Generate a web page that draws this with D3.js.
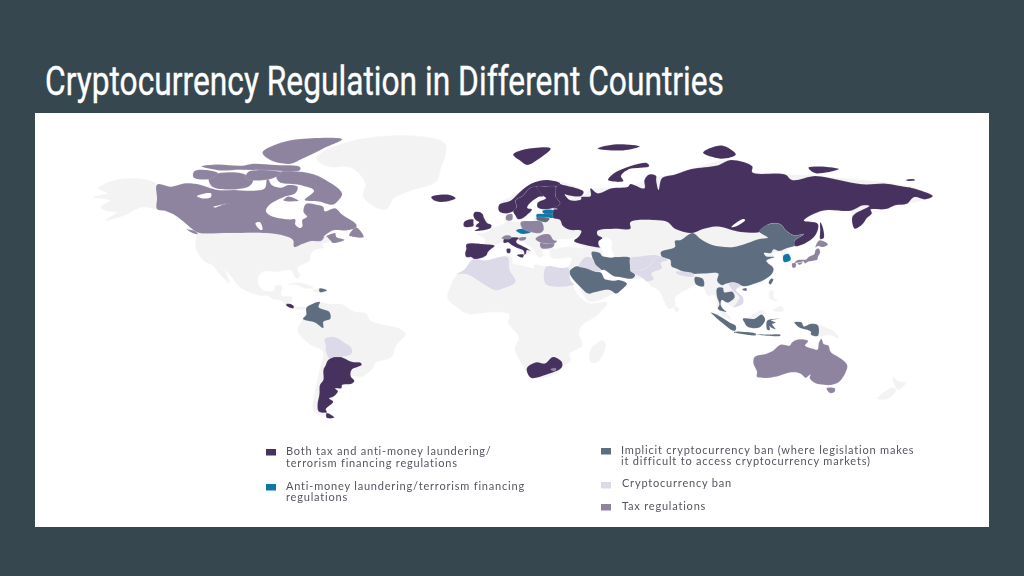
<!DOCTYPE html>
<html>
<head>
<meta charset="utf-8">
<script src="https://cdn.jsdelivr.net/npm/d3@7"></script>
<style>
  html, body { margin: 0; padding: 0; background: #37474f; }
  svg { display: block; }
</style>
</head>
<body>
<svg width="1024" height="576"></svg>
<script>
// outlines are [lon, lat]
var landBase = [
  // alaska
  [[-141,69.6],[-141,60],[-137,59],[-133,57],[-130,54.8],[-135,58.5],[-140,59.8],[-147,61],[-151,59.5],[-154,57.5],[-163,54.8],[-158,58.5],[-162,59],[-165,61],[-161,64],[-168,65.5],[-162,67],[-166,68.5],[-156.5,71.3]],
  // usa, mexico, central america
  [[-123,49],[-124.5,43],[-124,40],[-120.5,34.5],[-117,32.5],[-114.5,28],[-110,23],[-112,30],[-109,26],[-105.5,20.5],[-97,16],[-94,16],[-92,14.5],[-87.5,13],[-85.8,10],[-83,8.3],[-80,7.3],[-77.3,8],[-78,9.4],[-81,9],[-83.5,10.8],[-83.5,15],[-88,16],[-87.8,21.3],[-90.5,21],[-91,18.7],[-95,18.5],[-97.8,22],[-97,28],[-94,29.5],[-90,29],[-84,30],[-82,26],[-81,25.2],[-80,27],[-81.3,31],[-76,35],[-75.5,38],[-74,40.5],[-70,41.7],[-70.5,43.5],[-67,45],[-69,47.4],[-71,45],[-75,45],[-79,43.5],[-82.5,42],[-83,45.5],[-88,48],[-95,49],[-110,49]],
  // greenland
  [[-73,78.2],[-60,82],[-32,83.5],[-18,81.5],[-20,75],[-22,70.5],[-32,68],[-40,65],[-43,60],[-48,61],[-53,66],[-52,70],[-58,75.5],[-68,76]],
  // south america
  [[-77.3,8.6],[-75,11],[-71.5,12.4],[-68,11],[-62,10.7],[-57,6],[-52,5],[-50,0],[-44,-2.5],[-37,-5],[-35,-8],[-39,-15],[-41,-22],[-48,-25.5],[-48.5,-28],[-53.5,-34],[-58.3,-34],[-56.8,-36.5],[-58,-38.3],[-62,-39],[-65,-41],[-65.5,-45],[-69,-51],[-68,-54],[-74,-52],[-73.5,-42],[-71.5,-30],[-70.2,-18.5],[-76,-14],[-81,-6],[-80,-2],[-78.7,1.3],[-77.3,4]],
  // africa
  [[-6,35.8],[-1,35.2],[10,37.3],[11,33.5],[15,32.3],[20,31],[20,32.8],[25,31.7],[32,31],[34.5,31.3],[35.5,24],[37.5,18.5],[39.5,15],[43.5,11.5],[51,12],[47,4],[40,-3],[39,-8],[40.5,-15],[35,-20],[35.5,-24],[32.8,-27],[30,-31.5],[26,-34],[20,-34.8],[18.3,-34],[15,-27],[11.8,-17],[13.5,-10],[9,-1],[9.5,4],[5,6],[-4,5],[-8,4.5],[-13,9],[-17,14.7],[-16,20],[-13,27.5],[-10,30]],
  // eurasia
  [[-9,43],[-1.5,43.5],[-1,46],[-4.5,48.5],[-1.5,49],[2,51],[4,52],[8,54],[8.5,57],[10.5,57.5],[10,54.5],[14,54],[19,54.5],[21,57],[24,58],[23.5,59.3],[30,60],[23,60],[21.5,63],[25,65],[22,65.7],[17.5,62],[17,60.5],[19,59.8],[16.5,57],[14.3,55.5],[13,55.4],[11,59],[8,58],[5,59],[5,62],[14,67.5],[25,71],[41,67.5],[40,65],[44,68],[60,69],[72,72],[80,73],[104,77.7],[113,74],[140,72.5],[180,69],[190,66],[179,62.5],[163,59],[160,53],[155.6,56],[155,59.3],[143,59.3],[135,54.7],[141,53],[135,43.5],[130,42.5],[127.5,39.5],[129.5,36],[126.5,34.4],[125,39.7],[121,39],[118,39],[122.5,37],[119,35],[122,31],[118,24.5],[110,21],[106,19],[109,13],[105,9],[103,11],[100,13.5],[100.5,8],[104,1.3],[101,3],[98.3,8],[97,16],[94,16],[92,21],[89,22],[86,20],[80,15],[80,10],[77.5,8],[73,19],[70,21],[67,25],[61.5,25],[57,26],[51,29],[48.5,30],[50,25],[56,24.5],[59.5,22.5],[52,16],[43.5,12.7],[39,21],[35,28],[34.5,31],[36,36.5],[30,36.3],[27,37],[26.5,40],[29,41],[35,42],[41.5,41.5],[37,45],[39,47],[33,46],[30.5,46],[28.5,43.5],[28,41],[23,40.5],[24,38],[22,36.8],[19.5,41],[13.5,45.5],[12.3,45],[16,41.9],[18.5,40],[16,38],[12,42],[8.8,44.4],[3,43],[3,42],[0,39.5],[-2,36.8],[-5.5,36],[-9,37]],
  // madagascar
  [[49.3,-12],[50.4,-15.5],[47,-25],[44,-25],[43.5,-21],[44.5,-16.5]],
  // cuba, haiti, sri lanka
  [[-85,22],[-80,23],[-74.2,20.2],[-77.5,19.9],[-82,22]],
  [[-74.5,18.4],[-71.7,19.8],[-71.5,17.9]],
  [[80,9.6],[81.8,7.5],[80.5,6],[79.8,7.5]],
  // philippines
  [[120.5,18.5],[122,18.4],[122,15],[124,13],[120.6,14]],
  [[122,7],[125.5,9.7],[126.5,7],[124,6]],
  // malaysian borneo, png
  [[109.5,1.5],[111,1.8],[116.8,7],[119,5],[117,4.2],[114,1.5]],
  [[141,-2.6],[145,-4.5],[147.5,-6],[150,-10.5],[146,-8.5],[143,-9],[141,-9.1]],
  // new zealand
  [[173,-34.5],[175.5,-37],[178.5,-37.7],[175.3,-41.6],[174,-39.5]],
  [[172.7,-40.6],[174.3,-41.7],[171,-46],[166.5,-46]]
];

var bothTaxAndAml = [
  // russia
  [[30,69.8],[33,69.4],[41,67.5],[40,66],[34,66.5],[33,66.7],[35,64.3],[37,63.9],[40,64.6],[40,65.5],[44,66],[44,68.5],[47,67],[53,68.5],[60,69],[61,69.8],[67,68.5],[67,71],[69,73],[72,72.5],[72,71],[73,68],[74,71],[75,72],[80,73],[87,75],[98,76.3],[104,77.7],[113,76],[113,73.8],[127,73],[130,71],[140,72.5],[150,71],[160,69.7],[170,69.9],[178,69],[180,68.8],[190,66],[187,64.5],[182,65.5],[179,62.5],[174,61.8],[170,60],[164,60],[163.5,59.9],[164,58],[162,56],[160,53],[156.7,51],[155.6,56],[157,58],[163,61.5],[160,61.7],[155,59.3],[143,59.3],[135,54.7],[141,53.2],[140,48],[135,43.5],[131,42.5],[131,45],[135,48.4],[131,47.7],[127.5,50],[125,53],[120,53],[117,49.7],[108,49.5],[98,52],[92,50.8],[87.5,49],[80,51],[77,54],[71,55],[61,54],[61,51],[55,51],[47,50],[47,48],[49,46.5],[47.5,43],[48.5,41.8],[40,43.5],[37,45],[39,47.2],[40,50],[35,50.5],[32,52.5],[31,55],[28,56],[28,59.5],[30,60],[28,60.5],[31,62.5],[29,66]],
  // sakhalin, novaya zemlya, severnaya zemlya, new siberian, wrangel, franz josef, svalbard
  [[142,54],[143,52],[143.5,46.5],[142,46],[142,50]],
  [[51.5,71],[55,74],[68,77],[69,76],[60,74.8],[57,72.5],[58,70.7]],
  [[92,79.5],[100,81.2],[106,79],[100,78]],
  [[137,75.5],[145,75.8],[150,75],[140,73.5]],
  [[178.5,71],[182,71.3],[182.5,70.9],[179,70.8]],
  [[47,80.5],[55,81.5],[65,81],[58,80]],
  [[11,79],[16,80.3],[27,80.5],[22,78],[17,76.5],[14,77.5]],
  // norway, sweden, finland
  [[5,59],[5,62],[10,64],[14,67.5],[19,70],[25,71],[31,70],[29,69],[25,69],[21,69],[18,68.5],[15,66],[12,64],[12.5,61],[11,59],[8,58]],
  [[11,59],[12.5,61],[12,64],[15,66],[18,68.5],[21,69],[24,66],[22,65.7],[17.5,62],[17,60.5],[19,59.8],[16.5,57],[14.3,55.5],[13,55.4],[12,57]],
  [[21,69],[25,69],[29,69],[29,66],[31,62.5],[28,60.5],[23,60],[21.3,61],[21.5,63],[25,65],[24,66]],
  // iceland, britain, ireland, iberia
  [[-24,65.5],[-22,66.4],[-16,66.5],[-13.6,65],[-18,63.4],[-22.5,63.9]],
  [[-5.5,50],[1.3,51.2],[1.7,52.7],[0,53.5],[-1,55],[-1.5,56],[-2,57.6],[-3,58.6],[-5.5,58.6],[-6,57],[-5,55],[-3.5,54],[-4.5,53],[-5,52],[-3.5,51.4]],
  [[-10,52],[-6,52.2],[-6,54],[-6,55.2],[-8,55.2],[-10,54]],
  [[-9,43.3],[-5,43.8],[-2,43.5],[3,42.6],[1.5,41],[0.2,39.5],[-0.3,38],[-2,36.8],[-5.5,36],[-7,37],[-9,37],[-9.5,38.8],[-9,41]],
  // italy, sicily, sardinia
  [[7,44],[7,46],[10,46.8],[13.5,46.5],[12.3,45],[12.5,44],[16,41.9],[18.5,40],[16.8,40.4],[16.5,39],[15.8,38],[15.5,40],[12.3,41.7],[10.3,43],[8.8,44.4]],
  [[12.5,38],[15.5,38.2],[15,36.7]],
  [[8.2,41],[9.8,41],[9.6,39],[8.5,39]],
  // argentina, tierra del fuego, costa rica, south africa
  [[-65.5,-22],[-62.5,-22],[-58,-25],[-54,-25.7],[-53.7,-27],[-58,-30],[-58.3,-34],[-56.8,-36.5],[-58,-38.3],[-62,-39],[-62.3,-40.8],[-65,-41],[-63.8,-42.5],[-65.5,-45],[-67.5,-46],[-65.8,-47.5],[-69,-51],[-68.5,-52.3],[-72,-52],[-72.5,-49],[-71.7,-44],[-71.5,-39],[-70,-36],[-70,-30],[-69,-27],[-68.3,-24.5],[-67,-22.8]],
  [[-68.6,-52.7],[-65.3,-54.8],[-68.6,-54.9]],
  [[-85.8,11],[-83.7,10.9],[-82.6,9.5],[-83,8.2],[-85.7,9.9]],
  [[16.8,-29],[21,-25.3],[24.5,-26],[28,-22],[31.7,-25],[31.7,-28.5],[25,-33],[18.5,-34.8]]
];

var amlOnly = [
  // estonia, latvia
  [[23.5,59.3],[28,59.5],[27.5,57.6],[24.3,57.8],[23.5,58.5]],
  [[21,57.6],[24.3,57.8],[27.5,57.6],[28,56],[25,56.2],[21,56.2]],
  // czechia
  [[12.2,50.2],[15,51],[18.8,49.7],[17,48.7],[14.5,48.6]],
  // south korea
  [[126.3,37.7],[128.3,38.6],[129.5,36],[129,35],[126.5,34.4]]
];

var implicitBan = [
  // china, taiwan, hainan
  [[74,39.5],[80,42],[80,45],[82.5,45.5],[87.5,49],[91,46],[96,43],[105,42],[111,44],[116,46],[119.7,46.7],[116,49.7],[120,53],[125,53],[127.5,50],[131,47.7],[135,48.4],[131,45],[131,42.8],[128,41.5],[124.4,40],[122,40.8],[121,39],[118,39],[119,37.3],[122.5,37],[119,35],[122,31],[121.5,28],[118,24.5],[113.5,22.3],[110,21],[108,21.6],[105.5,23],[102,22.5],[100,21.6],[98,24],[98.5,28],[92,28],[86,28],[81,30.5],[78.5,32],[78,35.5],[74.5,37]],
  [[120,23],[121,25.2],[122,25],[120.8,22]],
  [[108.7,19.3],[110.5,20],[110.5,18.5]],
  // iran, saudi arabia and oman
  [[44.5,39.5],[48,39],[49,37.5],[54,37],[61,36.5],[61,31],[63,27],[61.5,25.2],[57,26],[54,26.5],[50,30],[48.5,30],[46,33],[45,36]],
  [[35,29],[38,32],[42,31],[46.5,29],[48.5,28.5],[50,25],[51.5,24.5],[54,24],[56,24.5],[59.5,22.5],[57,18.8],[55,17],[52,19],[45,17.5],[43,17],[39,21.5],[36.5,25]],
  // bangladesh, thailand
  [[88.5,26],[92,25],[92.3,21],[89,22]],
  [[98,20],[100.5,20.2],[101,17.8],[104.5,18],[105.5,15],[102.5,12],[101,13],[100,13.5],[99.5,11],[100.5,8],[102,6],[100,6.5],[98.3,8],[99,11],[98,15]],
  // indonesia
  [[95.3,5.5],[98,4],[103.5,-1],[106,-3],[105.8,-5.8],[104.5,-5.8],[100.5,-1.5],[97,3]],
  [[105.2,-6.8],[108,-6.5],[114.5,-7.7],[114.5,-8.7],[108,-7.8]],
  [[109,1.5],[114,1.5],[117,4.2],[118.5,1],[116,-4],[111,-3.5],[109.5,-0.5]],
  [[119.5,0.5],[125,1.5],[121,0.5],[123,-1],[121.5,-1.8],[123,-5],[121,-4],[120.4,-3],[120.5,-5.5],[119.4,-5.3],[119,-3]],
  [[115,-8.2],[119,-8.3],[125,-8.4],[125,-9],[119,-9]],
  [[131,-0.8],[134,-0.8],[135,-3.3],[138,-1.7],[141,-2.6],[141,-9.1],[138,-8.2],[138,-6.5],[133,-4],[132,-2.8]],
  // lithuania, colombia, dominican republic
  [[21,56.2],[25,56.2],[26.5,55.5],[25,54],[23,54.3],[21,55.2]],
  [[-77.3,8.6],[-75,11],[-71.5,12.4],[-72,9],[-67.5,6],[-67,1.5],[-70,-0.5],[-70,-4.2],[-73.5,-1],[-78.7,1.3],[-77.3,4]],
  [[-71.7,19.8],[-68.4,18.8],[-71.5,17.7]]
];

var cryptoBan = [
  // morocco and algeria, egypt
  [[-13,27.7],[-9,27.7],[3,19],[6,19.5],[12,23.5],[9.5,30],[8.5,37],[-1,35.2],[-6,35.8],[-10,30]],
  [[25,31.7],[32,31],[34.5,31.3],[35.5,24],[37,22],[25,22]],
  // iraq, afghanistan, pakistan, nepal
  [[39,32],[42,37],[45,36],[46,33],[48.5,30],[46.5,29],[42,31]],
  [[61,36.5],[65,37.3],[71,38],[74.5,37],[71,36],[70,33.5],[66,30],[61,29.5],[61,31]],
  [[61,29.5],[66.5,25.3],[68,23.7],[71,25],[70,28],[74.5,31],[74,34],[77,35.5],[74.5,37],[71,36],[70,33.5],[66,30]],
  [[80.5,29],[88,27.9],[88,26.4],[81,27.8]],
  // vietnam, bolivia
  [[103,22.5],[106,23],[108,21.6],[106,19],[109,15],[109,11.5],[105,9],[106,11],[107.5,15],[104.5,19]],
  [[-69.5,-11],[-65.3,-9.8],[-60.5,-13.8],[-58,-16.5],[-58,-20],[-62.5,-22],[-65.5,-22],[-67.5,-22.8],[-69,-18],[-69,-15]]
];

var taxOnly = [
  // canada
  [[-141,69.6],[-135,69],[-129,70],[-124,69.8],[-115,68],[-108,68],[-100,67.8],[-95,68.5],[-94,71.9],[-92,69.5],[-88,68.7],[-85,69.5],[-81,69],[-82,67],[-87,65.5],[-93,62],[-94.5,59],[-92.5,57],[-85,55.3],[-82,55.2],[-82,52.9],[-80,51.3],[-79,52],[-79,55],[-77,56.5],[-78.5,58.7],[-77.5,62.4],[-73,62],[-70,61],[-69.5,59],[-65,60.4],[-62,57.5],[-56,53],[-56,51.5],[-60,50.2],[-66,50.2],[-70,47],[-65,49],[-64.5,47],[-61,45.6],[-66,44],[-67,45.2],[-69,47.4],[-71,45],[-75,45],[-79,43.5],[-82.5,42],[-83,45.5],[-88,48],[-95,49],[-110,49],[-123,49],[-125,50],[-130,54.5],[-133,57],[-137,59],[-141,60],[-141,65]],
  // arctic islands
  [[-62,67],[-64,63.5],[-66,62],[-72,63.5],[-78,64.2],[-74,67.8],[-80,69.5],[-89,70.5],[-90,73.5],[-78,73.8],[-70,71.5]],
  [[-102,69],[-117,68.8],[-119,71.5],[-117,73],[-105,73.5],[-100,71]],
  [[-125.5,72],[-119,71.3],[-115,73.5],[-119,74.6],[-125,74.3]],
  [[-122,76],[-115,76.6],[-105,76.2],[-100,76.8],[-90,76.5],[-80,75.8],[-80,74.6],[-92,74.5],[-105,74.8],[-115,74.6]],
  [[-96,79.5],[-90,81.5],[-81,82.7],[-62,82.7],[-70,80.5],[-79,78],[-84,76.8],[-92,77.5]],
  [[-103,71.5],[-92,71.5],[-88,73.7],[-102,74]],
  [[-87,64],[-80.5,63.8],[-85,65.8]],
  [[-59,47.7],[-56,51.5],[-52.8,47],[-55.5,46.8]],
  [[-128.4,50.7],[-125,50],[-123.5,48.4],[-125.3,48.7]],
  // australia, tasmania
  [[114,-22],[113.5,-26],[115,-31],[115,-34.3],[118,-35],[123.5,-34],[129,-31.6],[131.5,-31.5],[134,-32.7],[135.7,-34.9],[137.8,-32.8],[137.5,-35.2],[140,-38],[143.5,-38.8],[146.3,-39],[150,-37.3],[153,-31],[153.5,-27],[150.8,-23],[146.5,-19],[145.5,-15],[143.5,-14],[142.5,-10.8],[141.5,-13],[140.8,-17.5],[139,-17],[135.5,-15],[136.8,-12.2],[132.5,-11.3],[130,-13],[129,-15],[125,-14.5],[122,-18],[119,-20]],
  [[144.7,-40.7],[148.3,-40.9],[148,-43],[146.5,-43.6],[145.3,-42.5]],
  // japan
  [[131,34],[132.5,35.5],[136,35.7],[137,37],[139.5,38.5],[140,40.5],[141.3,41.3],[142,39.5],[141,37],[140.8,35.7],[139,35],[136.8,34.5],[135.5,33.5],[135,34.6],[132.5,34]],
  [[130,33.5],[131.7,33.5],[131.3,31.3],[130.2,31.3]],
  [[132.3,33.5],[134.5,34.2],[134,33.3],[133,32.8]],
  [[140,41.8],[140.3,43.3],[141.8,45.4],[145.3,43.4],[143.2,42],[141,42.5]],
  // denmark, poland, switzerland, slovenia
  [[8,55],[8,57],[10.5,57.7],[10.5,55]],
  [[14.2,54],[19,54.5],[23,54.3],[24,50.5],[22.5,49],[19,49.4],[15,51]],
  [[6,46.2],[7.5,47.7],[10,47.5],[10,46.3],[8,45.9]],
  [[13.5,46.5],[16.5,46.8],[16,45.5],[13.5,45.4]],
  // romania, bulgaria, lesotho
  [[20.5,46],[23,48],[26.5,48.2],[28.2,45.5],[29.7,45],[28.5,43.8],[25,43.7],[22.5,44.3]],
  [[22.5,44],[25,43.7],[28.5,43.7],[28,42],[23,41.4]],
  [[27,-29.6],[29,-28.9],[29.3,-30],[28,-30.6]]
];

// lakes and the caspian, cut out in panel white
var waterCuts = [
  [[47.5,45],[51,46.8],[53,45],[53,41],[54,37],[50,37.5],[49,40.5],[47.5,43]],
  [[104,51.7],[109,55.5],[110,55],[106,52]],
  [[-124,66],[-118,67],[-118,65.5],[-122,65]],
  [[-117,61],[-110,62.8],[-113,62],[-116,60.8]],
  [[-99,53.5],[-97,54],[-96,50.5],[-97,50.5]]
];

var legendLines = [
  ["Both tax and anti-money laundering/", "terrorism financing regulations"],
  ["Anti-money laundering/terrorism financing", "regulations"],
  ["Implicit cryptocurrency ban (where legislation makes", "it difficult to access cryptocurrency markets)"],
  ["Cryptocurrency ban"],
  ["Tax regulations"]
];

var landColor = "#f3f3f4";
var seriesColors = ["#47315f", "#1178a8", "#5e6d80", "#dcd9e8", "#8f849f"];
var seriesOutlines = [bothTaxAndAml, amlOnly, implicitBan, cryptoBan, taxOnly];

var svg = d3.select("svg");

svg.append("text")
  .attr("x", 45)
  .attr("y", 95)
  .attr("textLength", 679)
  .attr("lengthAdjust", "spacingAndGlyphs")
  .style("font-family", "Roboto, sans-serif")
  .style("font-size", "40px")
  .style("fill", "#ffffff")
  .style("stroke", "#ffffff")
  .style("stroke-width", 0.35)
  .text("Cryptocurrency Regulation in Different Countries");

svg.append("rect")
  .attr("x", 35).attr("y", 113)
  .attr("width", 954).attr("height", 414)
  .style("fill", "#ffffff");

svg.append("filter").attr("id", "soft")
  .append("feGaussianBlur").attr("stdDeviation", 0.4);

// the source map is a squashed cylindrical one, so lat gets stops
var x = d3.scaleLinear().domain([-141, 153]).range([157, 846]);
var y = d3.scaleLinear()
  .domain([83, 76.5, 71, 66.5, 49, 36, 12.4, 0, -22, -35, -43.5, -55])
  .range([138, 165, 180, 195, 233, 259, 302, 321, 357, 378, 393, 418]);

var outline = d3.line()
  .x(function(d) { return x(d[0]); })
  .y(function(d) { return y(d[1]); })
  .curve(d3.curveCatmullRomClosed.alpha(0.5));

var map = svg.append("g").attr("filter", "url(#soft)");

map.append("g").selectAll("path")
  .data(landBase)
  .join("path")
  .attr("d", outline)
  .style("fill", landColor)
  .style("stroke", landColor)
  .style("stroke-width", 0.4);

seriesOutlines.forEach(function(list, i) {
  map.append("g").selectAll("path")
    .data(list)
    .join("path")
    .attr("d", outline)
    .style("fill", seriesColors[i])
    .style("stroke", "#ffffff")
    .style("stroke-opacity", 0.35)
    .style("stroke-width", 0.3);
});

map.append("g").selectAll("path")
  .data(waterCuts)
  .join("path")
  .attr("d", outline)
  .style("fill", "#ffffff");

// legend, two loose columns
var legendPos = [
  {bx: 266, by: 449, tx: 286, ty: [455, 467]},
  {bx: 266, by: 484, tx: 286, ty: [490, 501]},
  {bx: 601, by: 448, tx: 621, ty: [454, 465]},
  {bx: 601, by: 482, tx: 622, ty: [487]},
  {bx: 601, by: 504, tx: 622, ty: [510]}
];

var legend = svg.append("g").attr("filter", "url(#soft)");
legendLines.forEach(function(lines, i) {
  var p = legendPos[i];
  legend.append("rect")
    .attr("x", p.bx).attr("y", p.by)
    .attr("width", 10).attr("height", 6.5)
    .style("fill", seriesColors[i]);
  legend.selectAll(null)
    .data(lines)
    .join("text")
    .attr("x", p.tx)
    .attr("y", function(d, j) { return p.ty[j]; })
    .style("font-family", "Lato, sans-serif")
    .style("font-size", "11px")
    .style("letter-spacing", "0.8px")
    .style("fill", "#55555f")
    .text(function(d) { return d; });
});
</script>
</body>
</html>
